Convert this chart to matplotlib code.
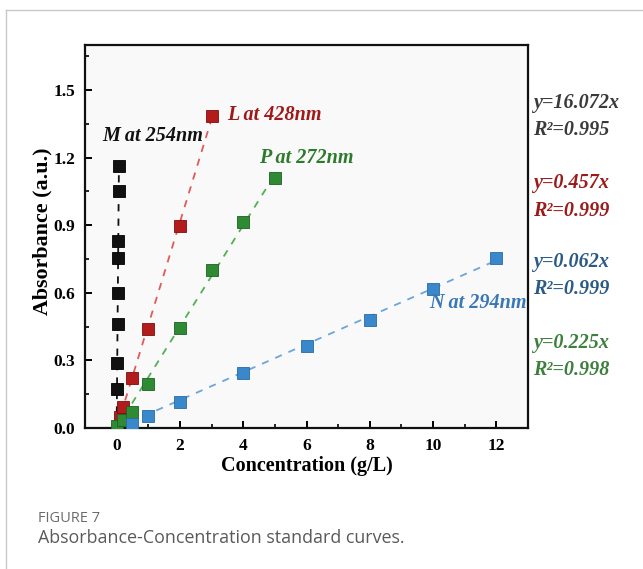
import numpy as np
import matplotlib
matplotlib.use("Agg")
import matplotlib.pyplot as plt
from matplotlib.lines import Line2D

# data
m_x = [0.011, 0.018, 0.029, 0.037, 0.047, 0.052, 0.065, 0.072]
m_y = [0.175, 0.29, 0.46, 0.60, 0.755, 0.83, 1.05, 1.165]
l_x = [0.1, 0.2, 0.5, 1, 2, 3]
l_y = [0.05, 0.095, 0.222, 0.44, 0.895, 1.387]
p_x = [0.0, 0.2, 0.5, 1, 2, 3, 4, 5]
p_y = [0.01, 0.035, 0.07, 0.197, 0.445, 0.70, 0.915, 1.108]
n_x = [0.5, 1, 2, 4, 6, 8, 10, 12]
n_y = [0.018, 0.052, 0.114, 0.246, 0.364, 0.48, 0.618, 0.755]

slopes = {"M": 16.072, "L": 0.457, "P": 0.225, "N": 0.062}
r2 = {"M": "0.995", "L": "0.999", "P": "0.998", "N": "0.999"}

W, H = 643, 569
fig = plt.figure(figsize=(W / 100, H / 100), dpi=100)
fig.patch.set_facecolor("white")

# page frame
fig.add_artist(Line2D([6 / W, 6 / W], [0, 1 - 10 / H], color="#c8c8c8", lw=1.0))
fig.add_artist(Line2D([6 / W, 1], [1 - 10 / H, 1 - 10 / H], color="#c8c8c8", lw=1.0))

ax = fig.add_axes([85 / W, 1 - 428 / H, (528 - 85) / W, (428 - 45) / H])
ax.set_facecolor("#f9f9f9")

serif = "Liberation Serif"

series = [
    ("M", m_x, m_y, "#111111", "#111111", "#000000"),
    ("L", l_x, l_y, "#b41c1c", "#e05a5a", "#7a1010"),
    ("P", p_x, p_y, "#2f8a34", "#52b052", "#1f5f22"),
    ("N", n_x, n_y, "#3a88cc", "#6aa6da", "#2a6aa0"),
]
for key, xs, ys, col, lcol, ecol in series:
    xf = np.array([0, max(xs)])
    ax.plot(xf, slopes[key] * xf, ls=(0, (4, 4)), color=lcol, lw=1.3, zorder=2)
    ax.plot(xs, ys, "s", ms=8.3, color=col, mec=ecol, mew=0.6, zorder=3)

ax.set_xlim(-1, 13)
ax.set_ylim(0, 1.7)
ax.set_xticks([0, 2, 4, 6, 8, 10, 12])
ax.set_xticks([1, 3, 5, 7, 9, 11], minor=True)
ax.set_yticks([0.0, 0.3, 0.6, 0.9, 1.2, 1.5])
ax.set_yticks([0.15, 0.45, 0.75, 1.05, 1.35, 1.65], minor=True)
ax.set_yticklabels(["0.0", "0.3", "0.6", "0.9", "1.2", "1.5"])
ax.tick_params(which="major", direction="in", length=5, width=1.4, pad=7)
ax.tick_params(which="minor", direction="in", length=3, width=1.2)
for lab in ax.get_xticklabels() + ax.get_yticklabels():
    lab.set_fontfamily(serif)
    lab.set_fontweight("bold")
    lab.set_fontsize(12.5)
for s in ax.spines.values():
    s.set_linewidth(1.6)
    s.set_color("#111111")

ax.set_xlabel("Concentration (g/L)", fontfamily=serif, fontweight="bold",
              fontsize=14.5, labelpad=2)
fig.text(42 / W, 1 - 231 / H, "Absorbance (a.u.)", rotation=90,
         fontfamily=serif, fontweight="bold", fontsize=15.8,
         ha="center", va="center")

lab_kw = dict(fontfamily=serif, fontweight="bold", fontstyle="italic",
              fontsize=14.5, va="center", ha="left", zorder=5)
ax.text(-0.45, 1.295, "M at 254nm", color="#111111", **lab_kw)
ax.text(3.5, 1.39, "L at 428nm", color="#a01818", **lab_kw)
ax.text(4.5, 1.20, "P at 272nm", color="#2d7a2d", **lab_kw)
ax.text(9.87, 0.555, "N at 294nm", color="#3a78b5", **lab_kw)

eq = [
    ("M", 102.7, "#3a3a3a"),
    ("L", 183, "#9b1b1b"),
    ("N", 261.7, "#2b5a86"),
    ("P", 342.7, "#3d7f3d"),
]
for key, yc, col in eq:
    fig.text(533 / W, 1 - yc / H, "y=%sx" % slopes[key], color=col,
             fontfamily=serif, fontweight="bold", fontstyle="italic",
             fontsize=14.5, va="center", ha="left")
    fig.text(533 / W, 1 - (yc + 27.5) / H, "R\u00b2=%s" % r2[key], color=col,
             fontfamily=serif, fontweight="bold", fontstyle="italic",
             fontsize=14.5, va="center", ha="left")

fig.text(38 / W, 1 - 519 / H, "FIGURE 7", color="#6b6b6b",
         fontfamily="Open Sans", fontsize=10.5, va="center", ha="left")
fig.text(38 / W, 1 - 538 / H, "Absorbance-Concentration standard curves.",
         color="#5a5a5a", fontfamily="Open Sans", fontsize=12.9, va="center", ha="left")

fig.savefig("out.png", dpi=100)
